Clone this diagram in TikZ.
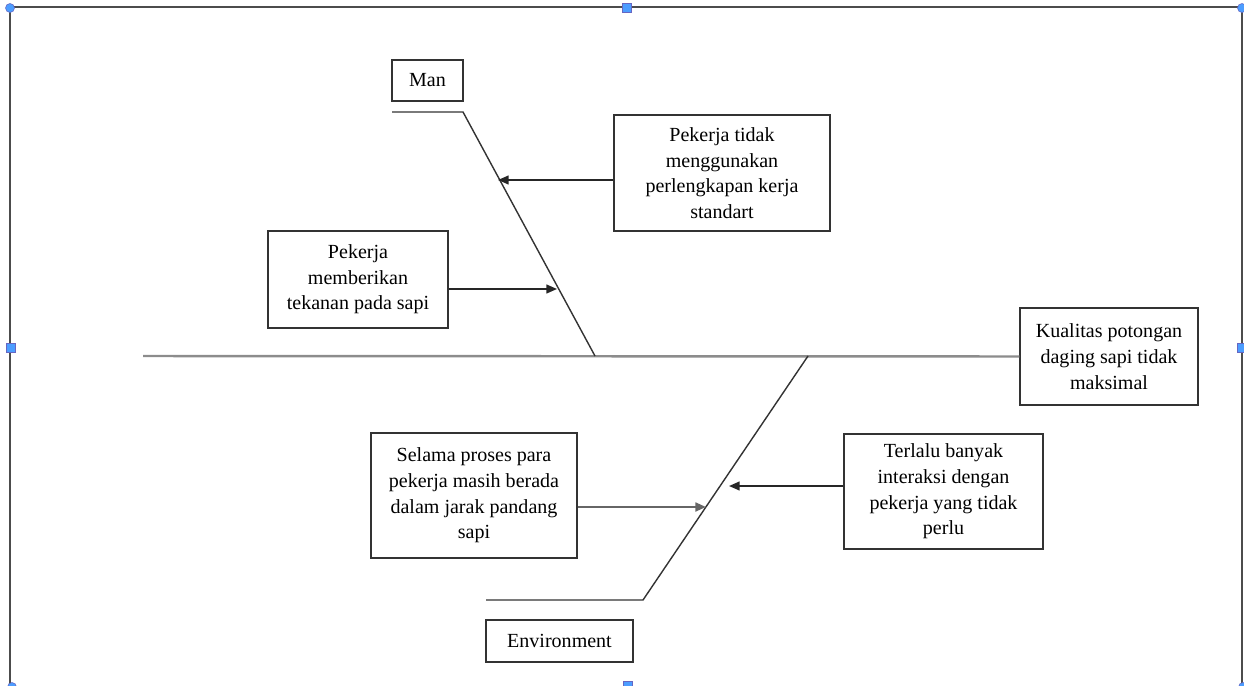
\documentclass[tikz,border=0pt]{standalone}
\usepackage{fontspec}
\setmainfont{Liberation Serif}
\usetikzlibrary{arrows.meta}
\begin{document}
\begin{tikzpicture}[x=0.02cm, y=-0.02cm, every node/.style={font=\fontsize{11.4}{14.6}\selectfont},
  cause/.style={draw,thick,black!80,text=black,align=center,inner sep=2pt},
  bone/.style={draw,black!80,line width=0.8pt},
  spine/.style={draw,black!45,line width=1.4pt},
  arr/.style={-{Triangle[length=6pt,width=5pt]},line width=0.9pt,black!85},
  handle/.style={fill=blue!55!cyan!70,draw=blue!60!black!60,line width=0.3pt}]
  \clip (0,0) rectangle (1244,686);
  % canvas frame
  \draw[black!70,line width=1.2pt] (10,7) rectangle (1242,692);
  \foreach \p in {(10,8),(1242,8),(12,687),(1243,687)}
    \fill[handle] \p circle (4.5);
  \foreach \p in {(627,8),(11,348),(1242,348),(628,686)}
    \filldraw[handle] \p +(-4.5,-4.5) rectangle +(4.5,4.5);
  % head and spine
  \node[cause,minimum width=3.56cm,minimum height=1.94cm] (effect) at (1109,356.5) {Kualitas potongan\\daging sapi tidak\\maksimal};
  \coordinate (tail) at (143,356);
  \draw[spine] (tail) -- (effect.west);
  % Man
  \node[cause,minimum width=1.42cm,minimum height=0.82cm] (man) at (427.5,80.5) {Man};
  \coordinate (m0) at (392,112);
  \coordinate (m1) at (463,112);
  \coordinate (m2) at (595,356);
  \draw[bone] (m0) -- (m1) -- (m2);
  \node[cause,minimum width=4.32cm,minimum height=2.32cm] (c1) at (722,173) {Pekerja tidak\\menggunakan\\perlengkapan kerja\\standart};
  \node[cause,minimum width=3.6cm,minimum height=1.94cm] (c2) at (358,279.5) {Pekerja\\memberikan\\tekanan pada sapi};
  \coordinate (a1) at (498,180);
  \coordinate (a2) at (557,289);
  \draw[arr] (c1.west |- a1) -- (a1);
  \draw[arr] (c2.east |- a2) -- (a2);
  % Environment
  \node[cause,minimum width=2.94cm,minimum height=0.84cm] (env) at (559.5,641) {Environment};
  \coordinate (e0) at (486,600);
  \coordinate (e1) at (643,600);
  \coordinate (e2) at (808,356);
  \draw[bone] (e0) -- (e1) -- (e2);
  \node[cause,minimum width=4.12cm,minimum height=2.5cm] (c3) at (474,495.5) {Selama proses para\\pekerja masih berada\\dalam jarak pandang\\sapi};
  \node[cause,minimum width=3.98cm,minimum height=2.3cm] (c4) at (943.5,491.5) {Terlalu banyak\\interaksi dengan\\pekerja yang tidak\\perlu};
  \coordinate (a3) at (706,507);
  \coordinate (a4) at (729,486);
  \draw[arr,black!60,line width=1.3pt] (c3.east |- a3) -- (a3);
  \draw[arr] (c4.west |- a4) -- (a4);
\end{tikzpicture}
\end{document}
